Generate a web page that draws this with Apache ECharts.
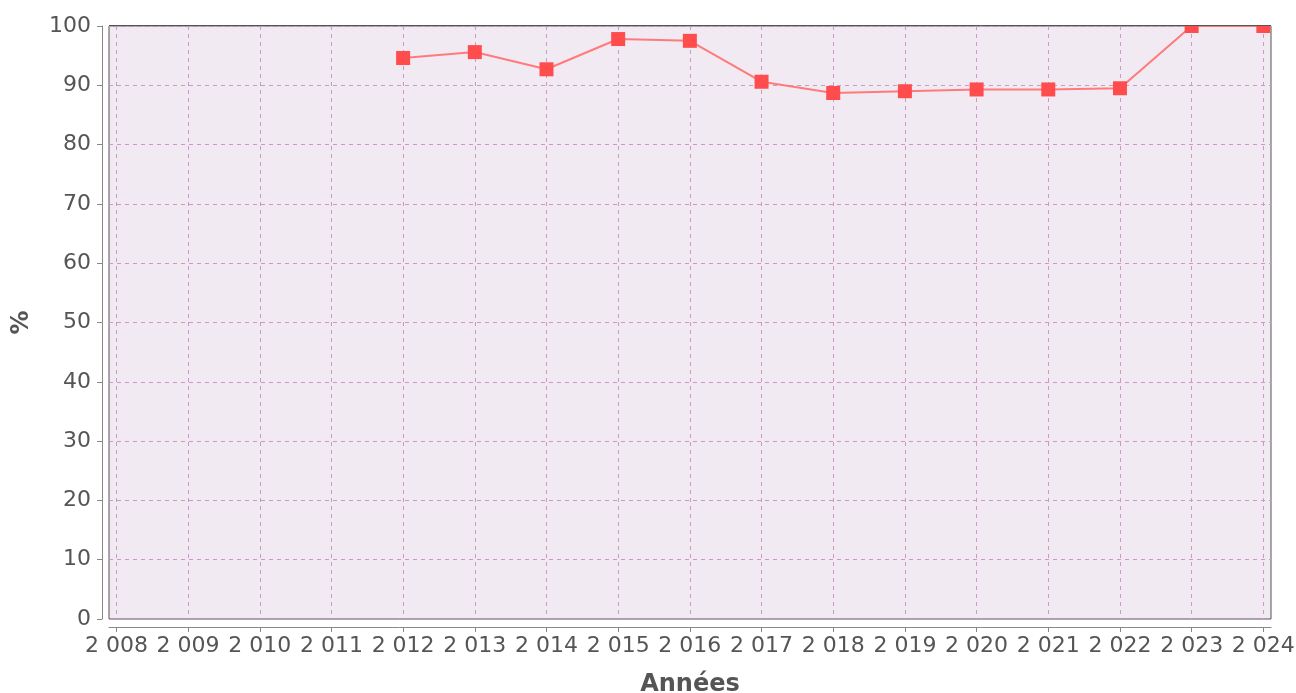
<!DOCTYPE html>
<html>
<head>
<meta charset="utf-8">
<script src="https://cdn.jsdelivr.net/npm/echarts@6/dist/echarts.min.js"></script>
<style>
html,body{margin:0;padding:0;background:#fff;}
#chart{width:1296px;height:693px;}
</style>
</head>
<body>
<div id="chart"></div>
<script>
const years = [2012, 2013, 2014, 2015, 2016, 2017, 2018, 2019, 2020, 2021, 2022, 2023, 2024];
const values = [94.6, 95.6, 92.7, 97.8, 97.5, 90.6, 88.7, 89.0, 89.3, 89.3, 89.5, 100, 100];
const xTicks = [2008, 2009, 2010, 2011, 2012, 2013, 2014, 2015, 2016, 2017, 2018, 2019, 2020, 2021, 2022, 2023, 2024];
const yTicks = [0, 10, 20, 30, 40, 50, 60, 70, 80, 90, 100];
const xName = 'Années';
const yName = '%';

const fmt = v => String(v).replace(/\B(?=(\d{3})+(?!\d))/g, ' ');
const font = 'DejaVu Sans';
const chart = echarts.init(document.getElementById('chart'));
chart.setOption({
  animation: false,
  grid: {
    left: 109, right: 25, top: 26, bottom: 74,
    outerBoundsMode: 'none', containLabel: false,
    show: true, backgroundColor: '#f2eaf2', borderColor: '#555', borderWidth: 1
  },
  graphic: [{
    type: 'rect', z: 100, silent: true,
    shape: {x: 103, y: 0, width: 1193, height: 25.5},
    style: {fill: '#fff'}
  }, {
    type: 'line', z: 101, silent: true,
    shape: {x1: 109, y1: 25.5, x2: 1271, y2: 25.5},
    style: {stroke: '#555', lineWidth: 1}
  }],
  xAxis: {
    type: 'value', min: 2007.897, max: 2024.107,
    offset: 8,
    name: xName, nameLocation: 'middle', nameGap: 46,
    nameTextStyle: {fontFamily: font, fontSize: 24, fontWeight: 'bold', color: '#555'},
    axisLine: {show: true, onZero: false, lineStyle: {color: '#888', width: 1}},
    axisTick: {show: true, length: 5, customValues: xTicks, lineStyle: {color: '#888'}},
    axisLabel: {customValues: xTicks, formatter: fmt, fontFamily: font, fontSize: 22, color: '#555', margin: 8},
    splitLine: {show: true, lineStyle: {color: '#c89ac8', type: [4, 4], width: 1}}
  },
  yAxis: {
    type: 'value', min: 0, max: 100, interval: 10,
    offset: 7,
    name: yName, nameLocation: 'middle', nameGap: 68, nameRotate: 90,
    nameTextStyle: {fontFamily: font, fontSize: 24, fontWeight: 'bold', color: '#555'},
    axisLine: {show: true, lineStyle: {color: '#888', width: 1}},
    axisTick: {show: true, length: 5, lineStyle: {color: '#888'}},
    axisLabel: {fontFamily: font, fontSize: 22, color: '#555', margin: 11,
      formatter: v => yTicks.includes(v) ? String(v) : ''},
    splitLine: {show: true, lineStyle: {color: '#c89ac8', type: [4, 4], width: 1}}
  },
  series: [{
    type: 'line',
    data: years.map((y, i) => [y, values[i]]),
    clip: true,
    symbol: 'rect', symbolSize: 14,
    itemStyle: {color: '#ff4d4d'},
    lineStyle: {color: '#ff7a7a', width: 2}
  }]
});
</script>
</body>
</html>
